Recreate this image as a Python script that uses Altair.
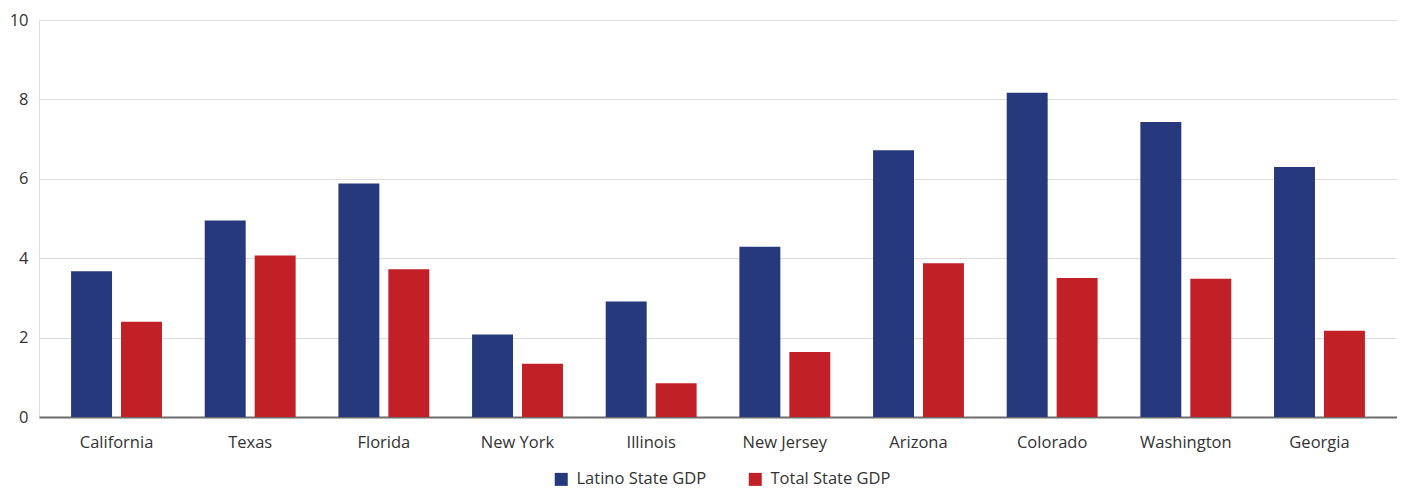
import altair as alt
import pandas as pd

states = ["California", "Texas", "Florida", "New York", "Illinois",
          "New Jersey", "Arizona", "Colorado", "Washington", "Georgia"]
latino_gdp = [3.67, 4.95, 5.88, 2.08, 2.91, 4.29, 6.72, 8.17, 7.43, 6.30]
total_gdp = [2.40, 4.07, 3.72, 1.34, 0.85, 1.64, 3.87, 3.50, 3.48, 2.17]
series = ["Latino State GDP", "Total State GDP"]
colors = ["#26397c", "#c02026"]
y_ticks = [0, 2, 4, 6, 8, 10]

rows = []
for s, a, b in zip(states, latino_gdp, total_gdp):
    rows.append({"state": s, "series": series[0], "value": a})
    rows.append({"state": s, "series": series[1], "value": b})
df = pd.DataFrame(rows)

FONT = "Open Sans"

chart = alt.Chart(df).mark_bar().encode(
    x=alt.X("state:N", sort=states, title=None,
            scale=alt.Scale(paddingInner=0.32, paddingOuter=0.24),
            axis=alt.Axis(labelAngle=0, ticks=False, domain=True,
                          domainColor="#6d6d6d", domainWidth=2,
                          labelPadding=17, labelFontSize=16.5,
                          labelFont=FONT, labelColor="#333333", grid=False)),
    xOffset=alt.XOffset("series:N", sort=series,
                        scale=alt.Scale(paddingInner=0.18, paddingOuter=0)),
    y=alt.Y("value:Q", title=None,
            scale=alt.Scale(domain=[0, 10], nice=False),
            axis=alt.Axis(values=y_ticks, domain=False, ticks=False,
                          labelPadding=11, labelFontSize=16.5, labelFont=FONT,
                          labelColor="#333333", gridColor="#dcdcdc",
                          gridWidth=1.2)),
    color=alt.Color("series:N", sort=series,
                    scale=alt.Scale(domain=series, range=colors),
                    legend=alt.Legend(title=None, orient="none",
                                      direction="horizontal",
                                      legendX=514, legendY=451,
                                      symbolType="square", symbolSize=169,
                                      symbolStrokeWidth=0, labelFontSize=16.5,
                                      labelFont=FONT, labelColor="#333333",
                                      labelOffset=7, columnPadding=40,
                                      padding=0)),
).properties(
    width=1358, height=397,
    autosize=alt.AutoSizeParams(type="none"),
    padding={"left": 31, "top": 12, "right": 0, "bottom": 74},
).configure_view(stroke=None).configure(background="white")

chart.save("out.html", embed_options={"renderer": "svg", "actions": False})
